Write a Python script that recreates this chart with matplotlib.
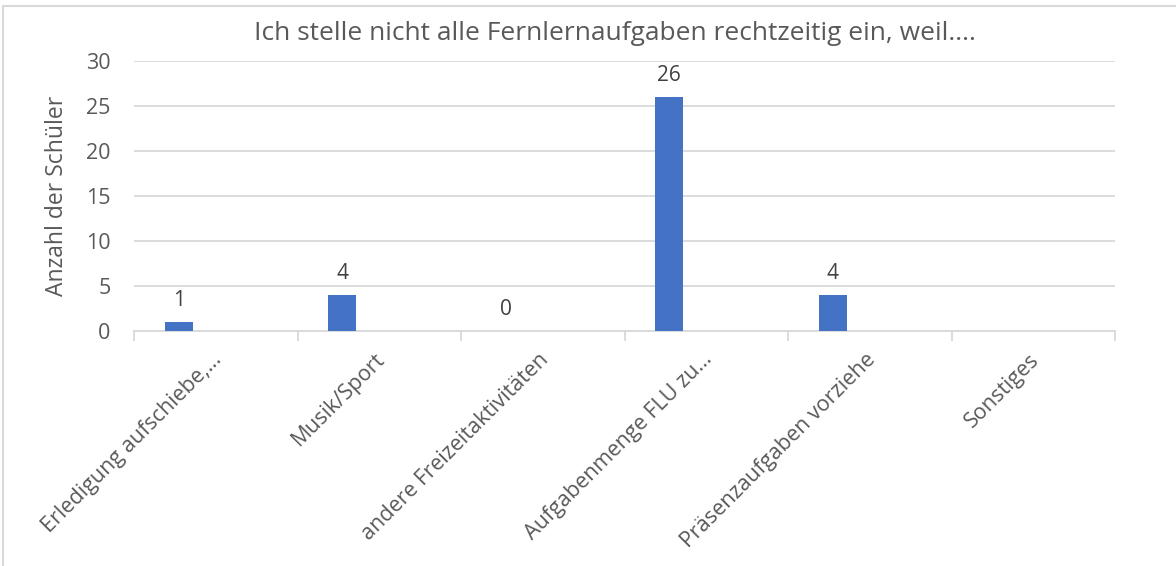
import numpy as np
import matplotlib
matplotlib.use("Agg")
import matplotlib.pyplot as plt
from matplotlib.patches import Rectangle
from matplotlib.transforms import ScaledTranslation

plt.rcParams['font.family'] = ['Open Sans', 'DejaVu Sans']

title = "Ich stelle nicht alle Fernlernaufgaben rechtzeitig ein, weil...."
categories = ["Erledigung aufschiebe,…", "Musik/Sport", "andere Freizeitaktivitäten",
              "Aufgabenmenge FLU zu…", "Präsenzaufgaben vorziehe", "Sonstiges"]
values = [1, 4, 0, 26, 4, np.nan]
ylabel = "Anzahl der Schüler"
yticks = [0, 5, 10, 15, 20, 25, 30]

text_color = "#595959"
grid_color = "#D9D9D9"
bar_color = "#4472C4"

fig = plt.figure(figsize=(11.76, 5.66), dpi=100)
fig.patches.append(Rectangle((3/1176, -0.1), 1.2, (1 - 6/566) + 0.1, transform=fig.transFigure,
                             fill=False, edgecolor=grid_color, linewidth=1.5))

ax = fig.add_axes([134/1176, 1 - 331/566, (1115 - 134)/1176, (331 - 61)/566])
x = np.arange(len(categories))
offset = -0.226
width = 0.172
bars = ax.bar(x + offset, values, width=width, color=bar_color, zorder=3)
for xi, v in zip(x, values):
    if not np.isnan(v):
        ax.annotate(f"{int(v)}", (xi + offset, v), xytext=(0, 8), textcoords="offset points",
                    ha='center', va='bottom', fontsize=15, color="#404040")

ax.set_xlim(-0.5, len(categories) - 0.5)
ax.set_ylim(0, 30)
ax.set_yticks(yticks)
ax.yaxis.grid(True, color=grid_color, linewidth=1.3, zorder=0)
ax.set_axisbelow(True)
for s in ['top', 'right', 'left']:
    ax.spines[s].set_visible(False)
ax.spines['bottom'].set_color(grid_color)
ax.spines['bottom'].set_linewidth(1.3)
ax.tick_params(axis='y', length=0, pad=17, labelsize=15.5, labelcolor=text_color)
ax.set_xticks(x)
ax.set_xticklabels(categories, rotation=45, ha='right', va='top', rotation_mode='anchor',
                   fontsize=15.5, color=text_color)
ax.tick_params(axis='x', which='major', length=0, pad=13)
shift = ScaledTranslation(-5/100, 0, fig.dpi_scale_trans)
for lbl in ax.get_xticklabels():
    lbl.set_transform(lbl.get_transform() + shift)
ax.set_xticks(np.arange(-0.5, len(categories)), minor=True)
ax.tick_params(axis='x', which='minor', length=7, color=grid_color, width=1.3)
ax.set_ylabel(ylabel, fontsize=16.5, color=text_color, labelpad=12)
fig.text(615/1176, 1 - 33/566, title, ha='center', va='center', fontsize=19, color=text_color)

fig.savefig("out.png", dpi=100, facecolor='white')
